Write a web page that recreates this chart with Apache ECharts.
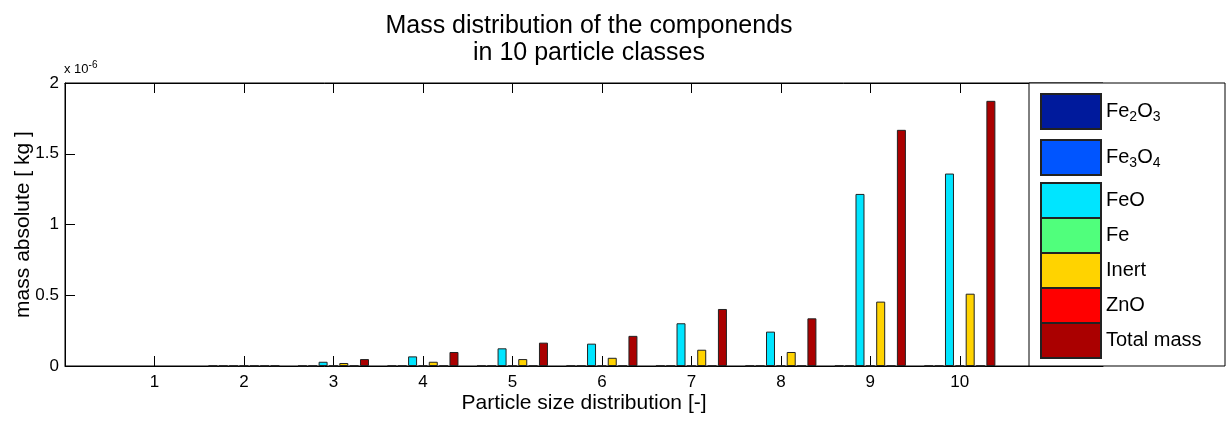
<!DOCTYPE html>
<html>
<head>
<meta charset="utf-8">
<title>Mass distribution of the componends</title>
<script src="https://cdn.jsdelivr.net/npm/echarts@6/dist/echarts.min.js"></script>
<style>
  html, body { margin: 0; padding: 0; background: #fff; }
  #chart { width: 1228px; height: 426px; }
</style>
</head>
<body>
<div id="chart"></div>
<script>
// particle classes 1..10, masses in units of 1e-6 kg
const classes = [1, 2, 3, 4, 5, 6, 7, 8, 9, 10];
const fe2o3 = [0, 0.002, 0.002, 0.002, 0.002, 0.002, 0.002, 0.002, 0.002, 0.002];
const fe3o4 = [0, 0.002, 0.002, 0.002, 0.002, 0.002, 0.002, 0.002, 0.002, 0.002];
const feo   = [0, 0.002, 0.030, 0.068, 0.125, 0.158, 0.302, 0.243, 1.216, 1.360];
const fe    = [0, 0.002, 0.002, 0.002, 0.002, 0.002, 0.002, 0.002, 0.002, 0.002];
const inert = [0, 0.002, 0.021, 0.030, 0.049, 0.058, 0.115, 0.099, 0.455, 0.511];
const zno   = [0, 0.002, 0.002, 0.002, 0.002, 0.002, 0.002, 0.002, 0.002, 0.002];
const total = [0, 0.003, 0.049, 0.099, 0.165, 0.213, 0.403, 0.337, 1.669, 1.874];

const yTicks = [0, 0.5, 1, 1.5, 2];

const seriesDefs = [
  { name: 'Fe2O3', label: 'Fe{sub|2}O{sub|3}', color: '#001a9c', values: fe2o3 },
  { name: 'Fe3O4', label: 'Fe{sub|3}O{sub|4}', color: '#0055ff', values: fe3o4 },
  { name: 'FeO', label: 'FeO', color: '#00e5ff', values: feo },
  { name: 'Fe', label: 'Fe', color: '#50ff7c', values: fe },
  { name: 'Inert', label: 'Inert', color: '#ffd300', values: inert },
  { name: 'ZnO', label: 'ZnO', color: '#ff0000', values: zno },
  { name: 'Total mass', label: 'Total mass', color: '#aa0000', values: total }
];
const labelOf = {};
seriesDefs.forEach(s => labelOf[s.name] = s.label);

const font = '"Liberation Sans", Arial, Helvetica, sans-serif';

const chart = echarts.init(document.getElementById('chart'), null, { renderer: 'canvas' });

const legendText = {
  fontFamily: font, fontSize: 20, color: '#000',
  rich: {
    sub: { fontFamily: font, fontSize: 14, color: '#000', padding: [12, 0, 0, 0] }
  }
};

const option = {
  animation: false,
  backgroundColor: '#fff',
  title: {
    text: 'Mass distribution of the componends\nin 10 particle classes',
    left: 584, top: 8, textAlign: 'center',
    textStyle: { fontFamily: font, fontSize: 25, fontWeight: 'normal', color: '#000', lineHeight: 27 }
  },
  grid: {
    left: 65, right: 125, top: 83, bottom: 60,
    outerBoundsMode: 'none', containLabel: false,
    show: true, borderColor: '#000', borderWidth: 1, backgroundColor: 'transparent'
  },
  xAxis: [{
    type: 'value', min: 0, max: 11.6, interval: 1,
    name: 'Particle size distribution [-]', nameLocation: 'middle', nameGap: 27,
    nameMoveOverlap: false,
    nameTextStyle: { fontFamily: font, fontSize: 21, color: '#000' },
    axisLine: { lineStyle: { color: '#000', width: 1 } },
    axisTick: { inside: true, length: 10, lineStyle: { color: '#000' } },
    axisLabel: {
      fontFamily: font, fontSize: 17, color: '#000', margin: 8,
      formatter: v => (v >= 1 && v <= 10) ? String(v) : ''
    },
    splitLine: { show: false }
  }, {
    type: 'value', position: 'top', min: 0, max: 11.6, interval: 1,
    axisLine: { lineStyle: { color: '#000', width: 1 } },
    axisTick: { inside: true, length: 10, lineStyle: { color: '#000' } },
    axisLabel: { show: false },
    splitLine: { show: false }
  }],
  yAxis: {
    type: 'value', min: 0, max: 2, interval: 0.5,
    name: 'mass absolute [ kg ]', nameLocation: 'middle', nameGap: 31,
    nameMoveOverlap: false,
    nameTextStyle: { fontFamily: font, fontSize: 21, color: '#000' },
    axisLine: { show: true, lineStyle: { color: '#000', width: 1 } },
    axisTick: { inside: true, length: 10, lineStyle: { color: '#000' } },
    axisLabel: {
      fontFamily: font, fontSize: 17, color: '#000', margin: 6,
      formatter: v => yTicks.includes(v) ? String(v) : ''
    },
    splitLine: { show: false }
  },
  legend: [{
    data: seriesDefs.slice(0, 2).map(s => s.name),
    orient: 'vertical', left: 1040, top: 93, padding: 0, itemGap: 9,
    itemWidth: 60, itemHeight: 35, icon: 'rect', z: 20,
    formatter: n => labelOf[n], textStyle: legendText, selectedMode: false
  }, {
    data: seriesDefs.slice(2).map(s => s.name),
    orient: 'vertical', left: 1040, top: 182, padding: 0, itemGap: -2,
    itemWidth: 60, itemHeight: 35, icon: 'rect', z: 20,
    formatter: n => labelOf[n], textStyle: legendText, selectedMode: false
  }],
  graphic: [{
    type: 'rect', z: 10,
    shape: { x: 1029, y: 83, width: 196, height: 283 },
    style: { fill: '#fff', stroke: '#000', lineWidth: 1 }
  }, {
    type: 'text', left: 64, top: 60, z: 10,
    style: {
      text: 'x 10{sup|-6}', fontFamily: font, fontSize: 13, fill: '#000',
      rich: { sup: { fontFamily: font, fontSize: 10, fill: '#000', padding: [0, 0, 8, 0] } }
    }
  }],
  series: seriesDefs.map(s => ({
    name: s.name,
    type: 'bar',
    barWidth: 9,
    barGap: '15%',
    itemStyle: { color: s.color, borderColor: '#222', borderWidth: 1 },
    data: classes.map((c, i) => s.values[i] === 0
      ? { value: [c, 0], itemStyle: { borderWidth: 0 } }
      : [c, s.values[i]])
  }))
};

chart.setOption(option);
</script>
</body>
</html>
